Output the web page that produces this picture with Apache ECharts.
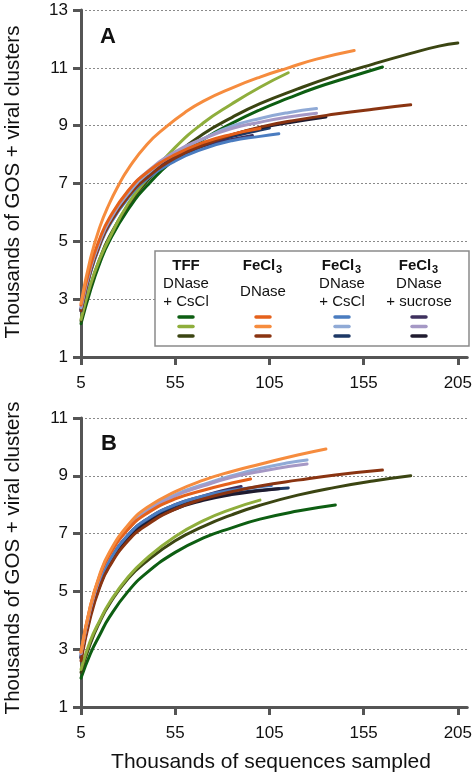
<!DOCTYPE html>
<html><head><meta charset="utf-8">
<script src="https://cdn.jsdelivr.net/npm/echarts@6/dist/echarts.min.js"></script>
<style>html,body{margin:0;padding:0;background:#fff}#c{width:475px;height:776px}</style>
</head><body><div id="c"></div>
<script>
// ---------- data ----------
const xTicks = [5, 55, 105, 155, 205];
const yTicksA = [1, 3, 5, 7, 9, 11, 13];
const yTicksB = [1, 3, 5, 7, 9, 11];
const xTitle = 'Thousands of sequences sampled';
const yTitle = 'Thousands of GOS + viral clusters';

// Panel A
const A_TFF_1 = [[5,2.15],[10,3.3],[15,4.25],[20,5.0],[30,6.1],[40,6.92],[55,7.85],[70,8.53],[85,9.08],[100,9.55],[115,9.95],[130,10.32],[145,10.63],[165,11.03]];
const A_TFF_2 = [[5,2.3],[10,3.5],[15,4.4],[20,5.1],[30,6.3],[40,7.15],[55,8.25],[70,9.1],[85,9.75],[100,10.33],[115,10.83]];
const A_TFF_3 = [[5,2.25],[10,3.45],[15,4.4],[20,5.15],[30,6.25],[40,7.08],[55,8.0],[70,8.72],[85,9.28],[100,9.76],[120,10.27],[140,10.73],[160,11.13],[180,11.5],[195,11.75],[205,11.86]];
const A_DN_1 = [[5,2.8],[10,4.15],[15,5.1],[20,5.8],[30,6.75],[40,7.38],[55,8.0],[70,8.42],[85,8.7],[100,8.9]];
const A_DN_2 = [[5,2.85],[10,4.4],[15,5.5],[20,6.3],[25,6.95],[30,7.5],[40,8.35],[50,8.95],[60,9.45],[70,9.85],[85,10.3],[100,10.68],[115,11.0],[130,11.3],[150,11.6]];
const A_DN_3 = [[5,2.6],[10,3.95],[15,4.9],[20,5.6],[30,6.55],[40,7.2],[55,7.88],[70,8.33],[85,8.68],[100,8.95],[120,9.2],[140,9.4],[160,9.57],[180,9.72]];
const A_CS_1 = [[5,2.6],[10,3.9],[15,4.85],[20,5.55],[30,6.5],[40,7.15],[55,7.78],[70,8.2],[85,8.48],[100,8.63],[110,8.72]];
const A_CS_2 = [[5,2.7],[10,4.05],[15,5.0],[20,5.7],[30,6.65],[40,7.33],[55,8.05],[70,8.55],[85,8.98],[100,9.25],[115,9.45],[130,9.59]];
const A_CS_3 = [[5,2.6],[10,3.95],[15,4.9],[20,5.6],[30,6.55],[40,7.2],[55,7.85],[70,8.3],[85,8.62],[100,8.85],[105,8.92]];
const A_SU_1 = [[5,2.65],[10,4.0],[15,4.95],[20,5.65],[30,6.6],[40,7.25],[55,7.9],[70,8.3],[85,8.52],[96,8.66]];
const A_SU_2 = [[5,2.75],[10,4.1],[15,5.05],[20,5.75],[30,6.72],[40,7.4],[55,8.1],[70,8.55],[85,8.9],[100,9.12],[115,9.3],[130,9.43]];
const A_SU_3 = [[5,2.65],[10,4.0],[15,4.95],[20,5.65],[30,6.6],[40,7.25],[55,7.9],[70,8.35],[85,8.68],[100,8.92],[120,9.15],[135,9.3]];

// Panel B
const B_TFF_1 = [[5,2.0],[10,2.85],[15,3.5],[20,4.1],[30,5.0],[40,5.65],[55,6.35],[70,6.85],[85,7.2],[100,7.5],[120,7.78],[140,7.99]];
const B_TFF_2 = [[5,2.3],[10,3.3],[15,4.0],[20,4.6],[30,5.5],[40,6.15],[55,6.9],[70,7.45],[85,7.85],[100,8.16]];
const B_TFF_3 = [[5,2.2],[10,3.2],[15,3.95],[20,4.55],[30,5.45],[40,6.05],[55,6.75],[70,7.25],[85,7.65],[100,7.98],[120,8.33],[140,8.6],[160,8.82],[180,9.0]];
const B_DN_1 = [[5,2.9],[10,4.5],[15,5.55],[20,6.25],[30,7.15],[40,7.7],[55,8.2],[70,8.5],[85,8.75],[95,8.89]];
const B_DN_2 = [[5,2.9],[10,4.5],[15,5.6],[20,6.35],[30,7.3],[40,7.9],[55,8.45],[70,8.85],[85,9.15],[100,9.4],[120,9.72],[135,9.93]];
const B_DN_3 = [[5,2.6],[10,4.1],[15,5.15],[20,5.85],[30,6.75],[40,7.3],[55,7.85],[70,8.2],[85,8.45],[100,8.65],[120,8.85],[140,9.03],[165,9.2]];
const B_CS_1 = [[5,2.8],[10,4.3],[15,5.35],[20,6.05],[30,6.95],[40,7.5],[55,8.0],[70,8.3],[85,8.5],[100,8.62],[106,8.66]];
const B_CS_2 = [[5,2.85],[10,4.45],[15,5.55],[20,6.3],[30,7.2],[40,7.8],[55,8.35],[70,8.7],[85,9.0],[100,9.25],[115,9.45],[125,9.55]];
const B_CS_3 = [[5,2.7],[10,4.2],[15,5.25],[20,5.95],[30,6.85],[40,7.4],[55,7.9],[70,8.2],[85,8.38],[100,8.5],[115,8.58]];
const B_SU_1 = [[5,2.75],[10,4.3],[15,5.35],[20,6.05],[30,6.95],[40,7.5],[55,8.0],[70,8.3],[80,8.48],[90,8.63]];
const B_SU_2 = [[5,2.85],[10,4.4],[15,5.5],[20,6.25],[30,7.15],[40,7.75],[55,8.3],[70,8.65],[85,8.95],[100,9.15],[115,9.32],[125,9.41]];
const B_SU_3 = [[5,2.7],[10,4.2],[15,5.2],[20,5.9],[30,6.8],[40,7.35],[55,7.85],[70,8.15],[85,8.35],[100,8.48],[110,8.55]];

// legend groups
const groupTitles = ['TFF', 'FeCl', 'FeCl', 'FeCl'];
const groupSubs = ['', '3', '3', '3'];
const groupLines = [['DNase', '+ CsCl'], ['DNase'], ['DNase', '+ CsCl'], ['DNase', '+ sucrose']];

// ---------- styles ----------
const COL = {
  TFF_1:'#0d5e12', TFF_2:'#8fae3c', TFF_3:'#3b4512',
  DN_1:'#e5611b', DN_2:'#f68c3e', DN_3:'#8a3411',
  CS_1:'#4a7cc0', CS_2:'#90aad6', CS_3:'#1d3866',
  SU_1:'#3e305e', SU_2:'#a598c5', SU_3:'#1f1b2f'
};
const legendCols = [['TFF_1','TFF_2','TFF_3'],['DN_1','DN_2','DN_3'],['CS_1','CS_2','CS_3'],['SU_1','SU_2','SU_3']];
const FONT = 'Liberation Sans, Arial, Helvetica, sans-serif';

const panelA = {TFF_1:A_TFF_1,TFF_2:A_TFF_2,TFF_3:A_TFF_3,DN_1:A_DN_1,DN_2:A_DN_2,DN_3:A_DN_3,CS_1:A_CS_1,CS_2:A_CS_2,CS_3:A_CS_3,SU_1:A_SU_1,SU_2:A_SU_2,SU_3:A_SU_3};
const panelB = {TFF_1:B_TFF_1,TFF_2:B_TFF_2,TFF_3:B_TFF_3,DN_1:B_DN_1,DN_2:B_DN_2,DN_3:B_DN_3,CS_1:B_CS_1,CS_2:B_CS_2,CS_3:B_CS_3,SU_1:B_SU_1,SU_2:B_SU_2,SU_3:B_SU_3};
const drawOrder = ['TFF_1','TFF_3','TFF_2','CS_3','SU_3','SU_1','CS_1','DN_3','CS_2','SU_2','DN_1','DN_2'];

function xAx(gi){return {type:'value',gridIndex:gi,min:5,max:210,
  axisLine:{show:true,onZero:false,lineStyle:{color:'#555',width:3}},
  axisTick:{show:true,length:8,lineStyle:{color:'#555',width:3},customValues:xTicks},
  axisLabel:{customValues:xTicks,fontSize:17,color:'#111',margin:18,fontFamily:FONT},
  splitLine:{show:false}};}
function yAx(gi,t){return {type:'value',gridIndex:gi,min:t[0],max:t[t.length-1],
  axisLine:{show:true,onZero:false,lineStyle:{color:'#555',width:3}},
  axisTick:{show:true,length:8,lineStyle:{color:'#555',width:3},customValues:t},
  axisLabel:{customValues:t,fontSize:17,color:'#111',margin:13,fontFamily:FONT},
  splitLine:{show:true,lineStyle:{color:'#8a8a8a',width:1,type:[2,2]}}};}

const series = [];
[panelA, panelB].forEach((p, gi) => {
  drawOrder.forEach(k => {
    series.push({type:'line',xAxisIndex:gi,yAxisIndex:gi,data:p[k],smooth:0.5,
      symbol:'none',silent:true,animation:false,
      lineStyle:{color:COL[k],width:3,cap:'round',join:'round'}});
  });
});

// legend graphics
const gfx = [];
const colX = [186, 263, 342, 419];
gfx.push({type:'rect',shape:{x:155,y:251,width:314,height:95},style:{fill:'#fff',stroke:'#8a8a8a',lineWidth:1.5},z:100});
colX.forEach((cx, i) => {
  if (groupSubs[i]) {
    gfx.push({type:'text',x:cx-4,y:266,style:{text:groupTitles[i],font:'bold 15px '+FONT,fill:'#111',align:'center',verticalAlign:'middle'},z:101});
    gfx.push({type:'text',x:cx+16,y:270,style:{text:groupSubs[i],font:'bold 11px '+FONT,fill:'#111',align:'center',verticalAlign:'middle'},z:101});
  } else {
    gfx.push({type:'text',x:cx,y:266,style:{text:groupTitles[i],font:'bold 15px '+FONT,fill:'#111',align:'center',verticalAlign:'middle'},z:101});
  }
  const lines = groupLines[i];
  const ys = lines.length === 1 ? [292] : [284, 302];
  lines.forEach((t, j) => {
    gfx.push({type:'text',x:cx,y:ys[j],style:{text:t,font:'15px '+FONT,fill:'#111',align:'center',verticalAlign:'middle'},z:101});
  });
  legendCols[i].forEach((k, j) => {
    gfx.push({type:'line',shape:{x1:cx-7,y1:317+j*9.5,x2:cx+7,y2:317+j*9.5},style:{stroke:COL[k],lineWidth:3.5,lineCap:'round'},z:101});
  });
});
// panel letters
gfx.push({type:'text',x:108,y:37,style:{text:'A',font:'bold 22px '+FONT,fill:'#111',align:'center',verticalAlign:'middle'},z:101});
gfx.push({type:'text',x:109,y:444,style:{text:'B',font:'bold 22px '+FONT,fill:'#111',align:'center',verticalAlign:'middle'},z:101});
// axis titles
gfx.push({type:'text',x:13,y:182,rotation:Math.PI/2,style:{text:yTitle,font:'20.5px '+FONT,fill:'#111',align:'center',verticalAlign:'middle'},z:101});
gfx.push({type:'text',x:13,y:558,rotation:Math.PI/2,style:{text:yTitle,font:'20.5px '+FONT,fill:'#111',align:'center',verticalAlign:'middle'},z:101});
gfx.push({type:'text',x:271,y:762,style:{text:xTitle,font:'21px '+FONT,fill:'#111',align:'center',verticalAlign:'middle'},z:101});

const chart = echarts.init(document.getElementById('c'), null, {renderer:'canvas'});
chart.setOption({
  animation:false,
  backgroundColor:'#fff',
  grid:[{left:81,top:10,width:388.5,height:347},{left:81,top:418,width:388.5,height:289}],
  xAxis:[xAx(0),xAx(1)],
  yAxis:[yAx(0,yTicksA),yAx(1,yTicksB)],
  series:series,
  graphic:gfx
});
</script></body></html>
